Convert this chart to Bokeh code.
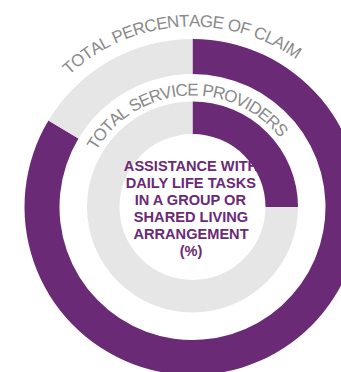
import math
from bokeh.plotting import figure
from bokeh.models import Range1d, ColumnDataSource
from bokeh.core.properties import value
from bokeh.embed import file_html
from bokeh.resources import INLINE

# ---- data ----
ring_labels = ["TOTAL PERCENTAGE OF CLAIM", "TOTAL SERVICE PROVIDERS"]
ring_share_pct = [83.6, 25.0]   # purple share of each ring (%)
center_lines = ["ASSISTANCE WITH", "DAILY LIFE TASKS", "IN A GROUP OR",
                "SHARED LIVING", "ARRANGEMENT", "(%)"]

# ---- style ----
PURPLE = "#6a2a75"
LIGHT = "#e6e6e6"
LABEL_GRAY = "#8a8a8a"
CX, CY = 192.0, -206.5
RINGS = [(133.0, 168.0), (73.0, 105.5)]        # inner, outer radius
LABEL_BASE_R = [186.0, 117.0]
LABEL_SIZE = 17.0
LABEL_CENTER_DEG = -4.0
W_PX, H_PX = 341, 372

# Arial / Liberation Sans advance widths (per 1000 em)
W = {' ': 278, 'A': 667, 'B': 667, 'C': 722, 'D': 722, 'E': 667, 'F': 611,
     'G': 778, 'H': 722, 'I': 278, 'J': 500, 'K': 667, 'L': 556, 'M': 833,
     'N': 722, 'O': 778, 'P': 667, 'Q': 778, 'R': 722, 'S': 667, 'T': 611,
     'U': 722, 'V': 667, 'W': 944, 'X': 667, 'Y': 667, 'Z': 611}

p = figure(width=W_PX, height=H_PX, x_range=Range1d(0, W_PX), y_range=Range1d(-H_PX, 0),
           output_backend="svg", toolbar_location=None, x_axis_type=None,
           y_axis_type=None, min_border=0)
p.grid.visible = False
p.outline_line_color = None
p.background_fill_color = "white"
p.border_fill_color = "white"

# rings
for (r_in, r_out), pct in zip(RINGS, ring_share_pct):
    start = math.pi / 2
    mid = start - 2 * math.pi * pct / 100.0
    end = start - 2 * math.pi
    src = ColumnDataSource(dict(x=[CX, CX], y=[CY, CY], s=[start, mid], e=[mid, end],
                                c=[PURPLE, LIGHT]))
    p.annular_wedge(x="x", y="y", inner_radius=r_in, outer_radius=r_out,
                    start_angle="s", end_angle="e", direction="clock",
                    fill_color="c", line_color=None, source=src)

# center text (on top; its overflow blends into the purple ring)
n = len(center_lines)
spacing = 17.0
ys = [CY - 1.7 - (i - (n - 1) / 2) * spacing for i in range(n)]
p.text(x=[CX - 1.5] * n, y=ys, text=center_lines, text_align="center",
       text_baseline="middle", text_font=value("Liberation Sans"),
       text_font_style="bold", text_font_size="14.6px", text_color=PURPLE)

# curved labels
for label, rb in zip(ring_labels, LABEL_BASE_R):
    r_adv = rb + 6.0
    widths = [W.get(ch, 600) * LABEL_SIZE / 1000.0 for ch in label]
    total = sum(widths)
    start_deg = LABEL_CENTER_DEG - math.degrees(total / r_adv) / 2
    xs, yv, chars, angs = [], [], [], []
    pos = 0.0
    for ch, w in zip(label, widths):
        th = math.radians(start_deg + math.degrees((pos + w / 2) / r_adv))
        pos += w
        if ch == ' ':
            continue
        xs.append(CX + rb * math.sin(th))
        yv.append(CY + rb * math.cos(th))
        chars.append(ch)
        angs.append(-th)
    p.text(x=xs, y=yv, text=chars, angle=angs, text_align="center",
           text_baseline="alphabetic", text_font=value("Liberation Sans"),
           text_font_size=f"{LABEL_SIZE}px", text_color=LABEL_GRAY)

open("out.html", "w").write(file_html(p, INLINE))
